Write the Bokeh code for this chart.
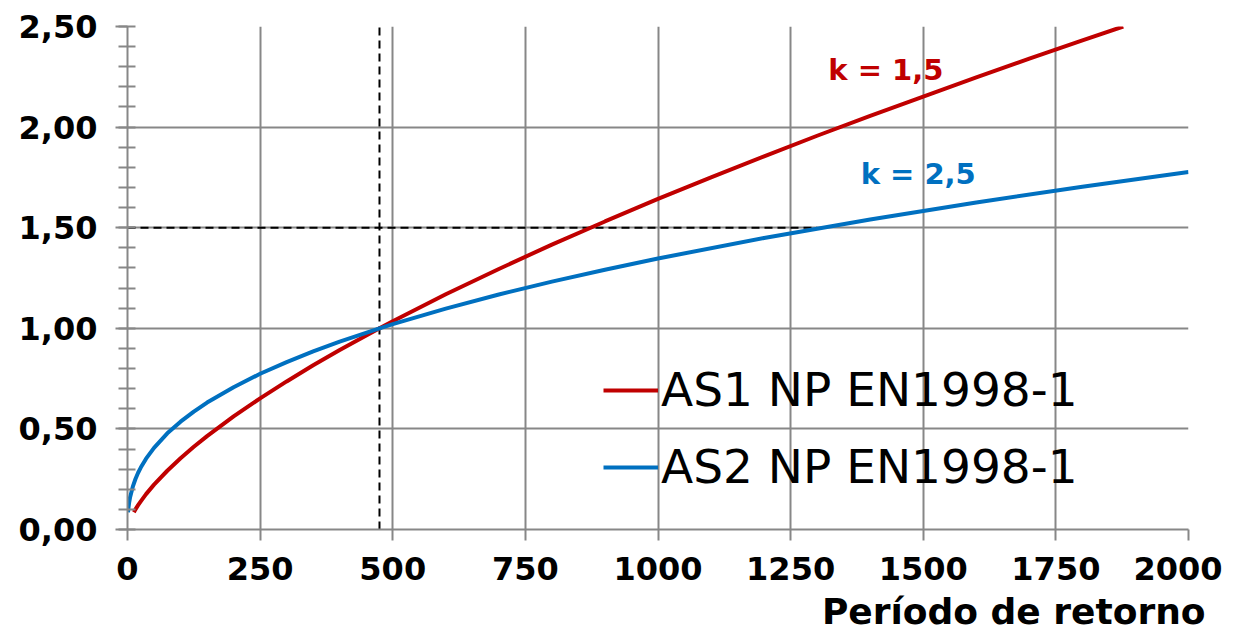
from bokeh.plotting import figure
from bokeh.models import (CustomJSTickFormatter, FixedTicker, Legend, LegendItem,
                          Label, Range1d, Title)
from bokeh.embed import file_html
from bokeh.resources import INLINE

# Return period (years) and seismic action ratio
as1_T = [12, 15, 20, 25, 35, 50, 75, 100, 125, 150, 200, 250, 300, 350, 400, 475, 500,
         600, 700, 800, 900, 1000, 1100, 1200, 1300, 1400, 1500, 1600, 1700, 1800, 1877]
as1_v = [0.086, 0.100, 0.121, 0.140, 0.176, 0.223, 0.292, 0.354, 0.411, 0.464, 0.562,
         0.652, 0.736, 0.816, 0.892, 1.000, 1.035, 1.169, 1.295, 1.416, 1.531, 1.643,
         1.750, 1.855, 1.957, 2.056, 2.152, 2.247, 2.340, 2.431, 2.500]

as2_T = [1, 2, 3, 5, 10, 15, 20, 25, 35, 50, 75, 100, 125, 150, 200, 250, 300, 350, 400,
         475, 500, 600, 700, 800, 900, 1000, 1200, 1400, 1600, 1800, 2000]
as2_v = [0.085, 0.112, 0.132, 0.162, 0.213, 0.251, 0.282, 0.308, 0.352, 0.406, 0.478,
         0.536, 0.586, 0.631, 0.707, 0.774, 0.832, 0.885, 0.934, 1.000, 1.021, 1.098,
         1.168, 1.232, 1.291, 1.347, 1.449, 1.541, 1.625, 1.704, 1.777]

ref_vx = [475, 475]
ref_vy = [0.0, 2.5]
ref_hx = [0, 1300]
ref_hy = [1.5, 1.5]

x_ticks = [0, 250, 500, 750, 1000, 1250, 1500, 1750, 2000]
y_ticks = [0.0, 0.5, 1.0, 1.5, 2.0, 2.5]
y_minor = [round(i * 0.1, 1) for i in range(26)]

series_names = ["AS1 NP EN1998-1", "AS2 NP EN1998-1"]
k_labels = ["k = 1,5", "k = 2,5"]
x_title = "Período de retorno"
RED = "#C00000"
BLUE = "#0070C0"
GRID = "#878787"
FONT = "DejaVu Sans"

p = figure(frame_width=1061, frame_height=503,
           x_range=Range1d(0, 2000), y_range=Range1d(0, 2.5),
           output_backend="svg", toolbar_location=None,
           min_border_left=127, min_border_right=34, min_border_top=26,
           min_border_bottom=97)
p.outline_line_color = None
p.background_fill_color = "white"
p.border_fill_color = "white"

# grids
p.xgrid.ticker = FixedTicker(ticks=x_ticks)
p.ygrid.ticker = FixedTicker(ticks=y_ticks)
for g in (p.xgrid, p.ygrid):
    g.grid_line_color = GRID
    g.grid_line_width = 2

# axes
p.xaxis.ticker = FixedTicker(ticks=x_ticks)
p.yaxis.ticker = FixedTicker(ticks=y_ticks, minor_ticks=y_minor)
p.yaxis.formatter = CustomJSTickFormatter(code="return tick.toFixed(2).replace('.', ',');")
for ax in (p.xaxis, p.yaxis):
    ax.axis_line_color = GRID
    ax.axis_line_width = 2
    ax.major_tick_line_color = GRID
    ax.major_tick_line_width = 2
    ax.major_tick_in = 0
    ax.major_label_text_font = FONT
    ax.major_label_text_font_style = "bold"
    ax.major_label_text_font_size = "32px"
    ax.major_label_text_color = "black"
p.xaxis.major_tick_out = 11
p.xaxis.minor_tick_line_color = None
p.xaxis.major_label_standoff = 16
p.yaxis.major_tick_out = 12
p.yaxis.minor_tick_in = 8
p.yaxis.minor_tick_out = 9
p.yaxis.minor_tick_line_color = GRID
p.yaxis.minor_tick_line_width = 2
p.yaxis.major_label_standoff = 18

# reference dashed lines
p.line(ref_vx, ref_vy, line_color="black", line_width=2, line_dash="8 5")
p.line(ref_hx, ref_hy, line_color="black", line_width=2, line_dash="8 5")

r1 = p.line(as1_T, as1_v, line_color=RED, line_width=4)
r2 = p.line(as2_T, as2_v, line_color=BLUE, line_width=4)

legend = Legend(items=[LegendItem(label=series_names[0], renderers=[r1]),
                       LegendItem(label=series_names[1], renderers=[r2])],
                location=(476, 35), orientation="vertical",
                glyph_width=55, glyph_height=20, label_standoff=3,
                label_text_font=FONT, label_text_font_size="47px",
                label_text_color="black",
                padding=0, margin=0, spacing=22,
                background_fill_alpha=0, border_line_alpha=0)
p.add_layout(legend)

p.add_layout(Label(x=1321, y=2.285, text=k_labels[0], text_color=RED,
                   text_font=FONT, text_font_style="bold", text_font_size="29px",
                   text_baseline="alphabetic"))
p.add_layout(Label(x=1382, y=1.765, text=k_labels[1], text_color=BLUE,
                   text_font=FONT, text_font_style="bold", text_font_size="29px",
                   text_baseline="alphabetic"))

p.add_layout(Title(text=x_title, align="right", offset=-17, standoff=12,
                   text_font=FONT, text_font_style="bold", text_font_size="36px",
                   text_color="black"), "below")

open("out.html", "w").write(file_html(p, INLINE))
